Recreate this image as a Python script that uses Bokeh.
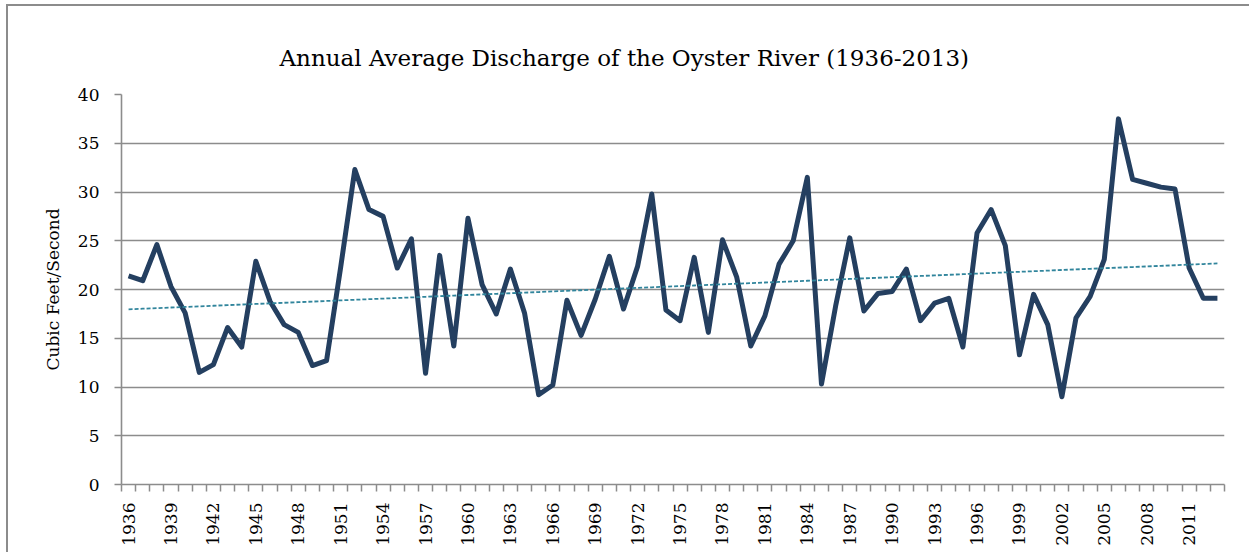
import numpy as np
from bokeh.plotting import figure
from bokeh.models import FixedTicker, Range1d, ColumnDataSource
from bokeh.embed import file_html
from bokeh.resources import INLINE

years = list(range(1936, 2014))
discharge = [
    21.4, 20.9, 24.6, 20.3, 17.6, 11.5, 12.3, 16.1, 14.1, 22.9,
    18.8, 16.4, 15.6, 12.2, 12.7, 22.3, 32.3, 28.2, 27.5, 22.2,
    25.2, 11.4, 23.5, 14.2, 27.3, 20.5, 17.5, 22.1, 17.6, 9.2,
    10.2, 18.9, 15.3, 19.0, 23.4, 18.0, 22.4, 29.8, 17.9, 16.8,
    23.3, 15.6, 25.1, 21.3, 14.2, 17.3, 22.6, 25.0, 31.5, 10.3,
    18.3, 25.3, 17.8, 19.6, 19.8, 22.1, 16.8, 18.6, 19.1, 14.1,
    25.8, 28.2, 24.5, 13.3, 19.5, 16.4, 9.0, 17.1, 19.3, 23.1,
    37.5, 31.3, 30.9, 30.5, 30.3, 22.2, 19.1, 19.1,
]
label_years = list(range(1936, 2014, 3))
y_ticks = [0, 5, 10, 15, 20, 25, 30, 35, 40]

TITLE = "Annual Average Discharge of the Oyster River (1936-2013)"
Y_LABEL = "Cubic Feet/Second"

FONT = "DejaVu Serif"
GRAY = "#8c8c8c"

slope, intercept = np.polyfit(years, discharge, 1)
trend = [slope * y + intercept for y in years]

src = ColumnDataSource(dict(x=years, y=discharge, t=trend))

p = figure(
    width=1243, height=548,
    output_backend="svg", toolbar_location=None,
    x_range=Range1d(years[0] - 0.5, years[-1] + 0.5),
    y_range=Range1d(0, 40),
    min_border_left=113, min_border_right=27,
    min_border_top=88, min_border_bottom=70,
    title=TITLE,
)
p.styles = {"border-left": "2px solid #8c8c8c", "border-top": "2px solid #8c8c8c",
            "margin-left": "6px", "margin-top": "4px"}

p.title.text_font = FONT
p.title.text_font_size = "23px"
p.title.text_font_style = "normal"
p.title.text_color = "#000000"
p.title.align = "left"
p.title.offset = 158
p.title.standoff = 47

p.outline_line_color = None
p.background_fill_color = "white"
p.border_fill_color = "white"

p.xgrid.grid_line_color = None
p.ygrid.grid_line_color = GRAY
p.ygrid.grid_line_width = 1.6

minor = [y - 0.5 for y in years] + [years[-1] + 0.5]
p.xaxis.ticker = FixedTicker(ticks=label_years, minor_ticks=minor)
p.xaxis.major_label_overrides = {y: str(y) for y in label_years}
p.xaxis.major_label_orientation = np.pi / 2
p.xaxis.major_tick_out = 0
p.xaxis.major_tick_in = 0
p.xaxis.minor_tick_out = 7
p.xaxis.minor_tick_in = 0
p.xaxis.minor_tick_line_color = GRAY
p.xaxis.minor_tick_line_width = 1.5
p.xaxis.axis_line_color = GRAY
p.xaxis.axis_line_width = 1.6
p.xaxis.major_label_standoff = 11
p.xaxis.major_label_text_font = FONT
p.xaxis.major_label_text_font_size = "17px"
p.xaxis.major_label_text_color = "#000000"

p.yaxis.ticker = FixedTicker(ticks=y_ticks)
p.yaxis.minor_tick_line_color = None
p.yaxis.major_tick_out = 7
p.yaxis.major_tick_in = 0
p.yaxis.major_tick_line_color = GRAY
p.yaxis.major_tick_line_width = 1.5
p.yaxis.axis_line_color = GRAY
p.yaxis.axis_line_width = 1.6
p.yaxis.major_label_standoff = 15
p.yaxis.major_label_text_font = FONT
p.yaxis.major_label_text_font_size = "17px"
p.yaxis.major_label_text_color = "#000000"
p.yaxis.axis_label = Y_LABEL
p.yaxis.axis_label_text_font = FONT
p.yaxis.axis_label_text_font_size = "17px"
p.yaxis.axis_label_text_font_style = "normal"
p.yaxis.axis_label_text_color = "#000000"
p.yaxis.axis_label_standoff = 12

p.line("x", "y", source=src, line_color="#243F60", line_width=5, line_join="round")
p.line("x", "t", source=src, line_color="#31859C", line_width=1.8, line_dash="4 2")

open("out.html", "w").write(file_html(p, INLINE))
